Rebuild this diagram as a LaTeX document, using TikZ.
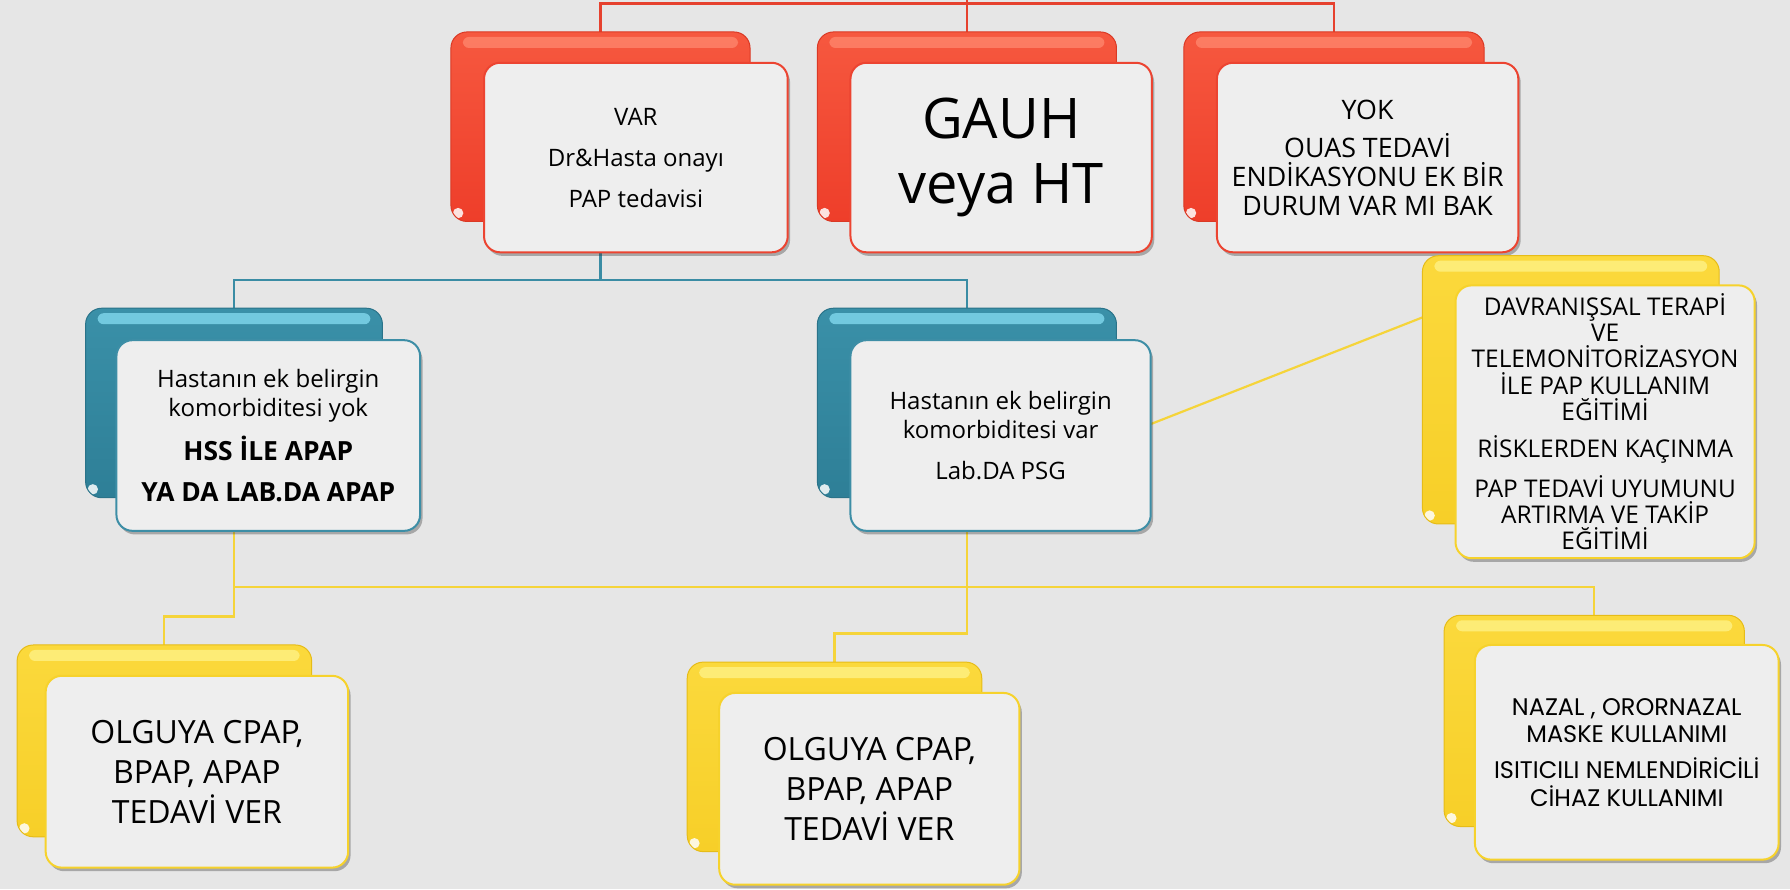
\documentclass[tikz,border=0pt]{standalone}
\usepackage{fontspec}
\usetikzlibrary{shadows,calc}
\newfontfamily\comic{Open Sans}
\newfontfamily\gothic{Poppins}
\definecolor{bgc}{HTML}{E6E6E6}
\definecolor{RT}{HTML}{F6583F}\definecolor{RB}{HTML}{EE3E2A}\definecolor{RL}{HTML}{FF8C72}\definecolor{RD}{HTML}{DA3925}\definecolor{RF}{HTML}{EC4431}
\definecolor{TT}{HTML}{3A90A8}\definecolor{TB}{HTML}{2E7F97}\definecolor{TL}{HTML}{8BE2F7}\definecolor{TD}{HTML}{2A7389}\definecolor{TF}{HTML}{3D8EA6}
\definecolor{YT}{HTML}{FBD93C}\definecolor{YB}{HTML}{F7CF28}\definecolor{YL}{HTML}{FFF590}\definecolor{YD}{HTML}{E6BC18}\definecolor{YF}{HTML}{F6D22C}
\definecolor{frontfill}{HTML}{EEEEEE}
\definecolor{Rline}{HTML}{E6412E}\definecolor{Tline}{HTML}{3A8CA4}\definecolor{Yline}{HTML}{F5D43A}
\newcommand\unitpx{0.5708pt}
\pgfdeclarelayer{bgl}\pgfsetlayers{bgl,main}
\tikzset{
  back/.style={draw=#1D, line width=0.5pt, rounded corners=8pt, top color=#1T, bottom color=#1B,
    inner sep=0pt, outer sep=0pt, anchor=north west,
    path picture={
      \fill[#1L, opacity=0.7, rounded corners=3pt]
        ([xshift=6pt,yshift=-2.5pt]path picture bounding box.north west) rectangle
        ([xshift=-6pt,yshift=-8pt]path picture bounding box.north east);
      \fill[white, opacity=0.85] ([xshift=3.6pt,yshift=4.2pt]path picture bounding box.south west) circle (2.6pt);
    }},
  front/.style={draw=#1F, line width=1pt, fill=frontfill, rounded corners=8pt, inner sep=0pt,
    outer sep=0pt, anchor=north west, align=center, text=black,
    drop shadow={shadow xshift=1.2pt, shadow yshift=-1.8pt, opacity=0.35, fill=black!80}},
  rline/.style={draw=Rline, line width=1.1pt},
  tline/.style={draw=Tline, line width=1.1pt},
  yline/.style={draw=Yline, line width=1.1pt},
}
\begin{document}
\begin{tikzpicture}[x=0.5708pt,y=-0.5708pt]
\useasboundingbox (0,0) rectangle (1568,779);
% red row
\node[back=R, minimum width=262*\unitpx, minimum height=166*\unitpx] (varB) at (395,28) {};
\node[front=R, minimum width=266*\unitpx, minimum height=166*\unitpx, font=\comic\fontsize{12}{20.5}\selectfont] (var) at (424,55) {VAR\\Dr\&Hasta onayı\\PAP tedavisi};
\node[back=R, minimum width=262*\unitpx, minimum height=166*\unitpx] (gauhB) at (716,28) {};
\node[front=R, minimum width=264*\unitpx, minimum height=166*\unitpx, font=\comic\fontsize{28}{32.5}\selectfont] (gauh) at (745,55) {GAUH\\veya HT};
\node[back=R, minimum width=263*\unitpx, minimum height=166*\unitpx] (yokB) at (1037,28) {};
\node[front=R, minimum width=264*\unitpx, minimum height=166*\unitpx, font=\comic\fontsize{13.4}{14.3}\selectfont] (yok) at (1066,55) {YOK\\[5pt]OUAS TEDAVİ\\ENDİKASYONU EK BİR\\DURUM VAR MI BAK};
% teal row
\node[back=T, minimum width=260*\unitpx, minimum height=166*\unitpx] (t1B) at (75,270) {};
\node[front=T, minimum width=266*\unitpx, minimum height=167*\unitpx, font=\comic\fontsize{12}{14.5}\selectfont] (t1) at (102,298) {Hastanın ek belirgin\\komorbiditesi yok\\[6pt]{\bfseries\fontsize{13.2}{14.5}\selectfont HSS İLE APAP}\\[6pt]{\bfseries\fontsize{13.2}{14.5}\selectfont YA DA LAB.DA APAP}};
\node[back=T, minimum width=262*\unitpx, minimum height=166*\unitpx] (t2B) at (716,270) {};
\node[front=T, minimum width=263*\unitpx, minimum height=167*\unitpx, font=\comic\fontsize{12}{14.5}\selectfont] (t2) at (745,298) {Hastanın ek belirgin\\komorbiditesi var\\[6pt]Lab.DA PSG};
% yellow boxes
\node[back=Y, minimum width=260*\unitpx, minimum height=235*\unitpx] (yrB) at (1246,224) {};
\node[front=Y, minimum width=262*\unitpx, minimum height=239*\unitpx, font=\comic\fontsize{12.2}{13.1}\selectfont] (yr) at (1275,250) {DAVRANIŞSAL TERAPİ\\VE\\TELEMONİTORİZASYON\\İLE PAP KULLANIM\\EĞİTİMİ\\[5.5pt]RİSKLERDEN KAÇINMA\\[5pt]PAP TEDAVİ UYUMUNU\\ARTIRMA VE TAKİP\\EĞİTİMİ};
\node[back=Y, minimum width=258*\unitpx, minimum height=168*\unitpx] (blB) at (15,565) {};
\node[front=Y, minimum width=265*\unitpx, minimum height=168*\unitpx, font=\comic\fontsize{16}{20}\selectfont] (bl) at (40,592) {OLGUYA CPAP,\\BPAP, APAP\\TEDAVİ VER};
\node[back=Y, minimum width=258*\unitpx, minimum height=166*\unitpx] (bmB) at (602,580) {};
\node[front=Y, minimum width=263*\unitpx, minimum height=168*\unitpx, font=\comic\fontsize{16}{20}\selectfont] (bm) at (630,607) {OLGUYA CPAP,\\BPAP, APAP\\TEDAVİ VER};
\node[back=Y, minimum width=263*\unitpx, minimum height=185*\unitpx] (nazB) at (1265,539) {};
\node[front=Y, minimum width=266*\unitpx, minimum height=188*\unitpx, font=\gothic\fontsize{12}{13.7}\selectfont] (naz) at (1292,565) {NAZAL , ORORNAZAL\\MASKE KULLANIMI\\[4.5pt]ISITICILI NEMLENDİRİCİLİ\\CİHAZ KULLANIMI};
% connectors
\begin{pgfonlayer}{bgl}
\fill[bgc] (0,0) rectangle (1568,779);
\coordinate (top) at (0,0);
\coordinate (rbus) at (0,3);
\coordinate (tbus) at (0,245);
\coordinate (ybus) at (0,514);
\coordinate (ylk) at (0,540);
\coordinate (ymk) at (0,555);
\draw[rline] (gauhB.north |- top) -- (gauhB.north);
\draw[rline] (varB.north) |- (yokB.north |- rbus) -- (yokB.north);
\draw[tline] (varB.center |- var.south) -- (varB.center |- tbus);
\draw[tline] (t1B.north) |- (t2B.north |- tbus) -- (t2B.north);
\draw[yline] (t1B.center |- t1.south) -- (t1B.center |- ylk) -| (blB.north);
\draw[yline] (t1B.center |- ybus) -| (nazB.north);
\draw[yline] (t2B.center |- t2.south) -- (t2B.center |- ymk) -| (bmB.north);
\draw[yline] ($(t2.east)+(0,-10)$) -- ($(yrB.north west)!0.23!(yrB.south west)$);
\end{pgfonlayer}
\end{tikzpicture}
\end{document}
